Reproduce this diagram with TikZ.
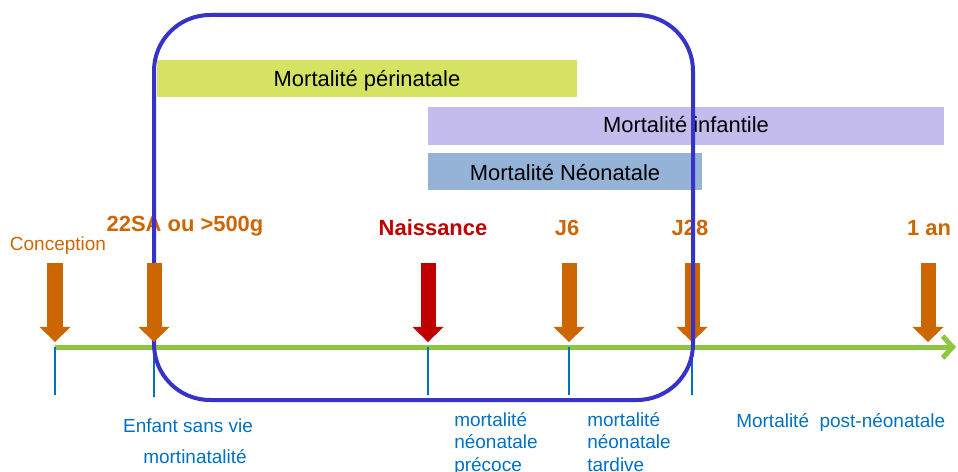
\documentclass[tikz,border=0pt]{standalone}
\usepackage{fontspec}
\setmainfont{Liberation Sans}
\usepackage{xcolor}
\usepackage{tikz}
\usetikzlibrary{arrows.meta, positioning}
\definecolor{axisgreen}{RGB}{141,198,63}
\definecolor{eventorange}{RGB}{204,102,0}
\definecolor{birthred}{RGB}{192,0,0}
\definecolor{periodblue}{RGB}{0,112,192}
\definecolor{framepurple}{RGB}{55,50,200}
\definecolor{perinatalgreen}{RGB}{213,226,98}
\definecolor{infantlilac}{RGB}{197,188,238}
\definecolor{neonatalblue}{RGB}{149,179,215}

\begin{document}
\begin{tikzpicture}[
    x=0.025cm, y=-0.025cm,
    bartext/.style={font=\fontsize{15.6}{18}\selectfont, text=black, inner sep=0pt, anchor=base},
    event/.style={font=\fontsize{15.6}{18}\selectfont\bfseries, inner sep=0pt, anchor=base},
    period/.style={font=\fontsize{13.5}{16}\selectfont, text=periodblue, inner sep=0pt},
    axistick/.style={periodblue, line width=0.03cm},
    blockarrow/.style={line width=0.375cm, shorten >=0.125cm,
        -{Triangle[length=0.375cm, width=0.775cm, line width=0pt]}},
    axisline/.style={axisgreen, line width=0.125cm,
        -{Straight Barb[length=0.25cm, width=0.55cm]}}
]
    \useasboundingbox (0,0) rectangle (958,472);

    % Time points on the axis
    \coordinate (conception) at (55,347);
    \coordinate (viable) at (154,347);
    \coordinate (naissance) at (428,347);
    \coordinate (jsix) at (569,347);
    \coordinate (jtwentyeight) at (692,347);
    \coordinate (unan) at (928,347);
    \coordinate (axisend) at (956,347);

    % Tops of the block arrows
    \coordinate (conceptiontop) at (55,263);
    \coordinate (viabletop) at (154,263);
    \coordinate (naissancetop) at (428,263);
    \coordinate (jsixtop) at (569,263);
    \coordinate (jtwentyeighttop) at (692,263);
    \coordinate (unantop) at (928,263);

    % Mortality bars
    \fill[perinatalgreen] (157,60) rectangle (577,97);
    \node[bartext] (perinatale) at (367,87) {Mortalité périnatale};
    \fill[infantlilac] (428,107) rectangle (944,145);
    \node[bartext] (infantile) at (686,133) {Mortalité infantile};
    \fill[neonatalblue] (428,153) rectangle (702,190);
    \node[bartext] (neonatale) at (565,180) {Mortalité Néonatale};

    % Event labels
    \node[event, font=\fontsize{13.5}{16}\selectfont, text=eventorange] (lblconception) at (58,250) {Conception};
    \node[event, text=eventorange] (lblviable) at (185,231) {22SA ou >500g};
    \node[event, text=birthred] (lblnaissance) at (433,235) {Naissance};
    \node[event, text=eventorange] (lbljsix) at (567,235) {J6};
    \node[event, text=eventorange] (lbljtwentyeight) at (690,235) {J28};
    \node[event, text=eventorange] (lblunan) at (929,235) {1 an};

    % Arrows (all but 22SA)
    \draw[blockarrow, eventorange] (conceptiontop) -- (conception);
    \draw[blockarrow, birthred] (naissancetop) -- (naissance);
    \draw[blockarrow, eventorange] (jsixtop) -- (jsix);
    \draw[blockarrow, eventorange] (jtwentyeighttop) -- (jtwentyeight);
    \draw[blockarrow, eventorange] (unantop) -- (unan);

    % Time axis and ticks
    \draw[axisline] (conception) -- (axisend);
    \draw[axistick] (conception) -- ++(0,48);
    \draw[axistick] (viable) -- ++(0,50);
    \draw[axistick] (naissance) -- ++(0,48);
    \draw[axistick] (jsix) -- ++(0,48);
    \draw[axistick] (jtwentyeight) -- ++(0,48);

    % Perinatal frame
    \draw[framepurple, line width=0.1cm, rounded corners=1.4cm] (154,15) rectangle (693,400);
    \draw[blockarrow, eventorange] (viabletop) -- (viable);

    % Period labels
    \node[period, anchor=base] (enfant) at (188,432) {Enfant sans vie};
    \node[period, anchor=base] (mortinatalite) at (195,463) {mortinatalité};
    \node[period, anchor=north west, align=left] (precoce) at (454,412) {mortalité\\néonatale\\précoce};
    \node[period, anchor=north west, align=left] (tardive) at (587,412) {mortalité\\néonatale\\tardive};
    \node[period, anchor=base west] (postneonatale) at (736,427) {Mortalité\ \ post-néonatale};
\end{tikzpicture}
\end{document}
